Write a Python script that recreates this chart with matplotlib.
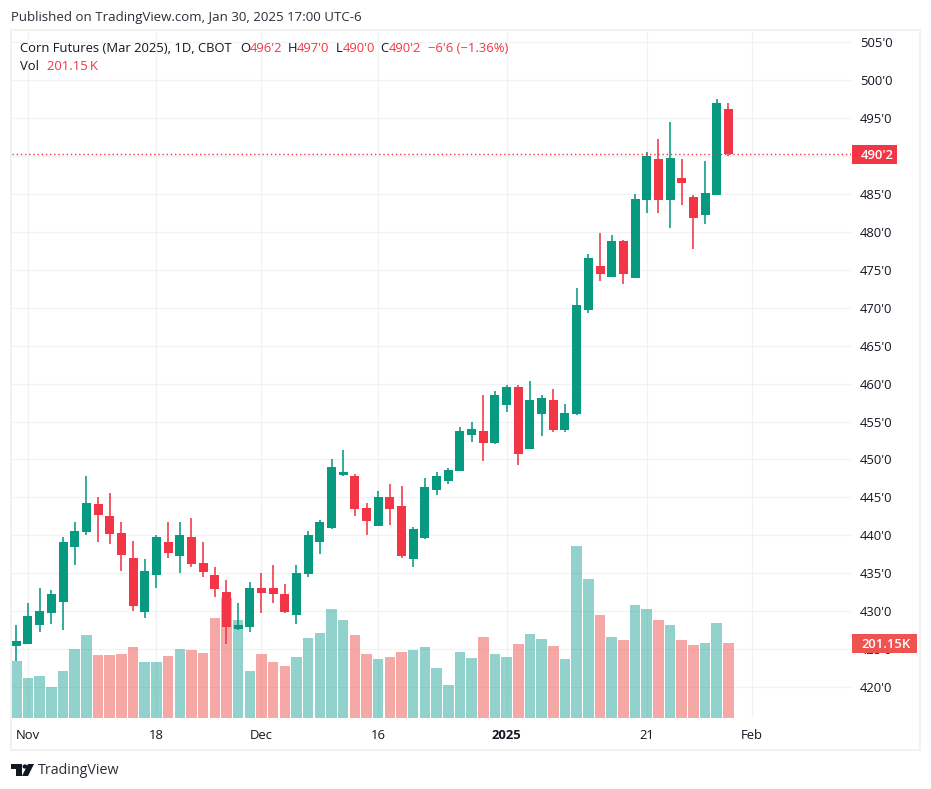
import matplotlib
matplotlib.use('Agg')
import matplotlib.pyplot as plt
from matplotlib.patches import Rectangle, Polygon, Circle
from matplotlib.transforms import IdentityTransform

# daily candles, prices in cents
opens = [425.4, 425.7, 428.2, 429.7, 431.2, 438.5, 440.4, 444.1, 442.5, 440.3,
         437.0, 429.9, 434.7, 439.1, 437.2, 439.8, 436.4, 434.8, 432.5, 427.7,
         427.9, 433.1, 433.1, 432.2, 429.5, 434.9, 439.1, 441.0, 447.9, 447.8,
         443.6, 441.2, 445.0, 443.9, 436.9, 439.7, 446.0, 447.2, 448.5, 453.2,
         453.7, 452.2, 457.2, 459.5, 451.4, 456.0, 457.8, 453.9, 456.0, 469.7,
         475.5, 474.1, 478.8, 473.9, 484.2, 489.6, 484.2, 487.1, 484.6, 482.2,
         484.9, 496.25]
highs = [428.1, 431.1, 433.1, 432.8, 439.8, 441.8, 447.8, 445.0, 445.6, 441.8,
         439.3, 436.9, 440.0, 441.8, 441.8, 442.3, 439.1, 435.8, 434.1, 431.1,
         433.9, 435.0, 436.1, 433.6, 436.1, 440.6, 442.0, 450.0, 451.2, 448.1,
         444.3, 445.8, 446.8, 446.5, 441.1, 447.5, 448.3, 448.9, 454.3, 455.0,
         458.5, 459.0, 459.8, 459.8, 460.3, 458.5, 459.3, 457.3, 472.6, 477.1,
         479.8, 479.6, 479.0, 485.0, 490.5, 492.3, 494.5, 489.6, 484.9, 489.3,
         497.5, 497.0]
lows = [423.4, 425.6, 427.2, 428.3, 427.5, 436.1, 440.0, 439.1, 438.9, 435.3,
        430.0, 429.1, 433.1, 437.0, 435.0, 435.8, 434.5, 431.9, 425.6, 427.5,
        427.3, 429.8, 431.1, 429.7, 428.3, 434.5, 437.5, 440.8, 447.8, 442.5,
        440.0, 441.2, 441.4, 437.0, 435.8, 439.5, 445.3, 446.8, 448.5, 452.3,
        449.8, 452.0, 456.2, 449.3, 451.4, 453.1, 453.6, 453.6, 455.8, 469.3,
        473.5, 474.0, 473.2, 473.9, 482.5, 482.5, 480.5, 483.5, 477.7, 481.0,
        484.9, 490.0]
closes = [426.1, 429.4, 430.0, 432.2, 439.1, 440.6, 444.3, 442.7, 440.2, 437.4,
          430.7, 435.3, 439.8, 437.7, 440.0, 436.2, 435.2, 432.9, 427.9, 428.1,
          433.1, 432.4, 432.2, 429.9, 435.0, 440.0, 441.8, 449.0, 448.3, 443.5,
          441.9, 445.0, 443.5, 437.2, 440.8, 446.4, 447.8, 448.6, 453.7, 454.0,
          452.2, 458.5, 459.5, 450.7, 457.8, 458.1, 453.9, 456.1, 470.4, 476.5,
          474.4, 478.8, 474.4, 484.3, 490.0, 484.2, 489.7, 486.4, 481.9, 485.2,
          497.0, 490.25]
volumes = [152.9, 107.3, 112.6, 83.1, 126.1, 185.1, 222.6, 169.0, 169.0, 171.6,
           190.4, 150.2, 150.2, 166.3, 185.1, 182.4, 174.3, 268.2, 321.8, 262.8,
           126.1, 171.6, 150.2, 139.5, 163.6, 214.6, 228.0, 292.3, 262.8, 222.6,
           171.6, 158.2, 163.6, 177.0, 182.4, 190.4, 134.1, 88.5, 177.0, 160.9,
           217.2, 171.6, 163.6, 198.5, 225.3, 211.9, 193.1, 158.2, 461.3, 372.8,
           276.2, 217.2, 209.2, 303.1, 292.3, 262.8, 249.4, 209.2, 195.8, 201.15,
           254.8, 201.15]

price_ticks = [420, 425, 430, 435, 440, 445, 450, 455, 460, 465, 470, 475, 480,
               485, 490, 495, 500, 505]
date_pos = [1, 12, 21, 31, 42, 54, 63]
date_labels = ['Nov', '18', 'Dec', '16', '2025', '21', 'Feb']

GREEN = '#089981'
RED = '#F23645'
VOL_GREEN = '#26a69a'
VOL_RED = '#ef5350'
GRID = '#f1f2f4'
W, H = 931, 789
FONT = 'Open Sans'
FS = 9.4

plt.rcParams['font.family'] = [FONT, 'DejaVu Sans']

fig = plt.figure(figsize=(W / 100, H / 100), dpi=100)


def px(x, y):
    # picture pixels to figure fraction
    return x / W, 1 - y / H


xs = list(range(len(closes)))
up = [c >= o for o, c in zip(opens, closes)]

left, top, right, bottom = 12, 31, 851, 718
rect = [left / W, 1 - bottom / H, (right - left) / W, (bottom - top) / H]

# lowest layer: grid and price scale
ax = fig.add_axes(rect)
ax.set_xlim(-0.37, 71.5)
ax.set_ylim(415.9, 506.5)
ax.set_yticks(price_ticks)
# the last price tag replaces the 490'0 label on the scale
ax.set_yticklabels(['' if p == 490 else f"{p}'0" for p in price_ticks], fontsize=FS, color='#131722')
ax.set_xticks(date_pos)
ax.set_xticklabels(date_labels, fontsize=FS, color='#131722')
ax.get_xticklabels()[4].set_fontweight('bold')
ax.grid(True, color=GRID, linewidth=0.9)
ax.set_axisbelow(True)
for s in ax.spines.values():
    s.set_visible(False)

# volume, scaled so it stays in the lower part of the pane
vol = ax.twinx()
vol.set_ylim(0, 1842.6)
vol.bar(xs, volumes, width=0.9, color=[VOL_GREEN if u else VOL_RED for u in up], alpha=0.5)
vol.axis('off')

# candles on top of the volume
top_ax = ax.twinx()
top_ax.set_ylim(ax.get_ylim())
top_ax.axis('off')
colors = [GREEN if u else RED for u in up]
top_ax.vlines(xs, lows, highs, color=colors, linewidth=1.15)
top_ax.bar(xs, [abs(c - o) for o, c in zip(opens, closes)],
           bottom=[min(o, c) for o, c in zip(opens, closes)],
           width=0.77, color=colors)
top_ax.axhline(closes[-1], color=RED, linewidth=1, linestyle=(0, (1, 2)))

# twinx moves the ticks to the left, so put the price scale back afterwards
ax.yaxis.tick_right()
ax.tick_params(length=0)
ax.tick_params(axis='y', pad=6.5)
ax.tick_params(axis='x', pad=8)
vol.set_zorder(1)
top_ax.set_zorder(2)


def tag(axis, value, s, width, color):
    # last value box on the price scale, y follows the axis it belongs to
    y = axis.transData.transform((0, value))[1]
    fig.add_artist(Rectangle((852, y - 9.5), width, 19, transform=IdentityTransform(),
                             fc=color, ec='none', zorder=5))
    fig.text(861 / W, y / H, s, color='white', fontsize=FS, fontweight='semibold',
             va='center_baseline', ha='left', zorder=6)


tag(top_ax, closes[-1], "490'2", 45, RED)
tag(vol, volumes[-1], '201.15K', 65, VOL_RED)

# outer frame of the widget
fig.add_artist(Rectangle(px(11, 750), 909 / W, 720 / H, transform=fig.transFigure,
                         fill=False, ec='#f1f1f1', lw=1.4))


def label(x, y, s, color='#131722', size=FS):
    xf, yf = px(x, y)
    fig.text(xf, yf, s, color=color, fontsize=size, va='center', ha='left')


label(11, 18, 'Published on TradingView.com, Jan 30, 2025 17:00 UTC-6', color='#2a2e39', size=9.5)
head_y = 48
label(20, head_y, 'Corn Futures (Mar 2025), 1D, CBOT')
label(240, head_y, 'O')
label(249.7, head_y, "496'2", RED)
label(288, head_y, 'H')
label(296.7, head_y, "497'0", RED)
label(335.7, head_y, 'L')
label(342.3, head_y, "490'0", RED)
label(380.7, head_y, 'C')
label(389, head_y, "490'2", RED)
label(427.7, head_y, "\u22126'6 (\u22121.36%)", RED)
label(20, 66.5, 'Vol')
label(46.7, 66.5, '201.15\u2009K', RED)

# TradingView logo
logo = '#131722'
fig.add_artist(Polygon([px(11, 764), px(22, 764), px(22, 776), px(16, 776), px(16, 769), px(11, 769)],
                       transform=fig.transFigure, fc=logo, ec='none'))
fig.add_artist(Circle(px(25, 766.5), 2.5 / W, transform=fig.transFigure, fc=logo, ec='none'))
fig.add_artist(Polygon([px(28, 764), px(34, 764), px(28, 776), px(22, 776)],
                       transform=fig.transFigure, fc=logo, ec='none'))
label(38, 770, 'TradingView', '#2a2e39', 10.3)

fig.savefig('out.png', dpi=100)
